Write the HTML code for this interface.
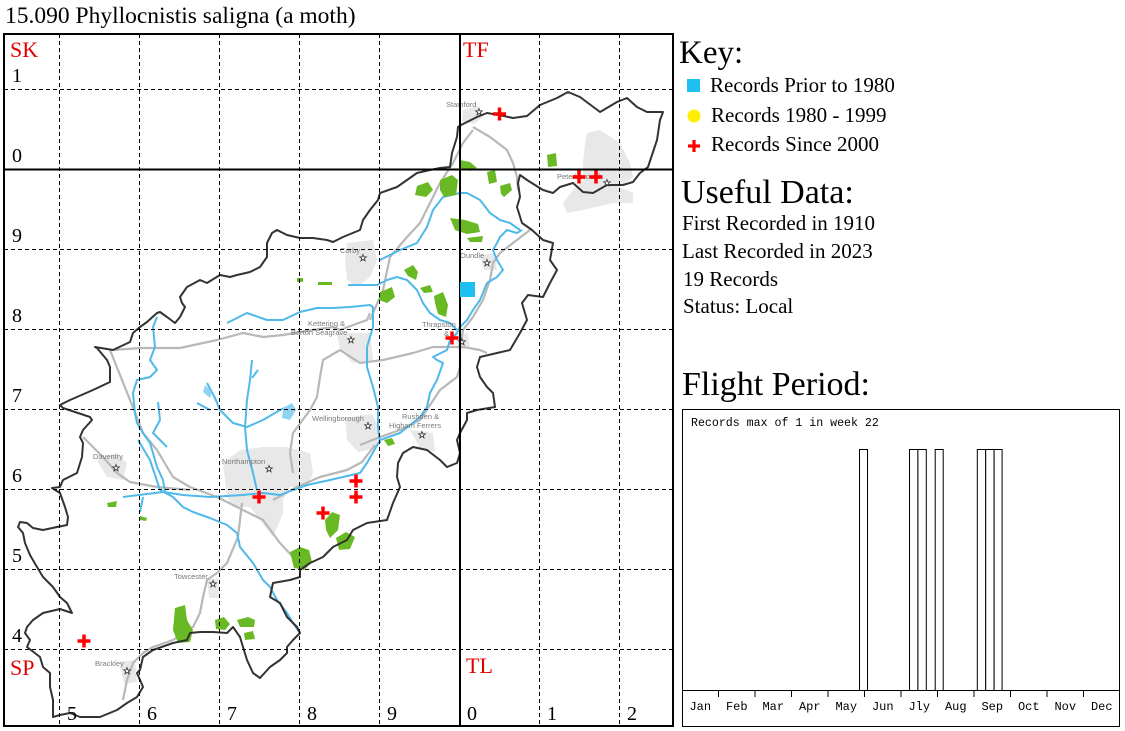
<!DOCTYPE html>
<html><head><meta charset="utf-8"><style>
html,body{margin:0;padding:0;background:#fff;}
svg{display:block;}
</style></head><body>
<svg width="1125" height="731" viewBox="0 0 1125 731" xmlns="http://www.w3.org/2000/svg">
<defs>
<path id="st" d="M0,-3.5 L0.82,-1.13 3.33,-1.08 1.33,0.43 2.06,2.83 0,1.4 -2.06,2.83 -1.33,0.43 -3.33,-1.08 -0.82,-1.13 Z" fill="#fff" stroke="#333" stroke-width="0.8"/>
</defs>
<rect width="1125" height="731" fill="#fff"/>
<text x="5" y="23" font-family="Liberation Serif, serif" font-size="23.5" fill="#000">15.090 Phyllocnistis saligna (a moth)</text>

<!-- urban areas -->
<g fill="#e8e8e8">
<path d="M587,133 L600,130 620,143 630,163 633,177 620,187 633,193 633,203 613,203 583,210 567,213 563,203 573,190 583,180 583,163 585,143Z"/>
<path d="M463,110 L478,106 484,116 474,124 462,121Z"/>
<path d="M347,243 L373,240 377,260 370,277 357,287 347,280 345,260Z"/>
<path d="M337,333 L370,333 373,360 353,363 340,350Z"/>
<path d="M223,463 L240,450 263,447 287,447 310,453 313,473 307,487 290,487 283,500 283,513 273,537 260,520 250,507 233,507 227,497Z"/>
<path d="M345,418 L372,414 380,430 376,448 358,452 347,440Z"/>
<path d="M410,430 L433,433 435,452 420,448Z"/>
<path d="M97,460 L117,453 127,463 123,480 107,477Z"/>
<path d="M207,580 L218,578 220,598 209,598Z"/>
<path d="M120,662 L135,660 137,682 124,684Z"/>
<path d="M455,335 L468,333 470,348 458,350Z"/>
<path d="M480,255 L495,253 497,270 484,270Z"/>
</g>

<!-- roads -->
<g fill="none" stroke="#b8b8b8" stroke-width="2.2" stroke-linejoin="round">
<path d="M113,350 L140,348 180,348 217,340 243,333 263,337 283,335 313,330 333,327 340,330 353,325 367,320 370,313"/>
<path d="M340,350 L360,363 383,360 413,353 433,347 463,347 480,350 487,353"/>
<path d="M340,350 L323,360 320,377 317,397 310,410 293,433 290,453 293,473"/>
<path d="M273,500 L297,487 320,477 347,470 362,462 375,445"/>
<path d="M360,445 L380,437 400,430 420,420 440,390 457,377 460,367 460,345"/>
<path d="M110,350 L130,400 143,433 157,450 173,477 190,487 217,497 237,507 263,520 280,543 293,557 300,567"/>
<path d="M83,437 L103,457 117,473 130,482 157,487 190,490"/>
<path d="M242,503 L238,537 227,563 217,573 207,580 203,597 200,613 193,627 173,640 153,647 143,653 133,663 127,680 123,700"/>
<path d="M370,320 L383,290 390,257 407,237 420,223 430,203 440,183 453,163 463,143 473,130"/>
<path d="M473,127 L490,137 507,150 513,163 517,177 518,190"/>
<path d="M530,230 L513,243 500,253 493,263 490,280 483,300 473,317 463,330 460,347"/>
</g>

<!-- rivers -->
<g fill="none" stroke="#4fb9ea" stroke-width="2" stroke-linejoin="round">
<path d="M123,497 L163,492 183,495 210,497 243,495 263,493 280,495 293,490 307,485 330,480 360,473 367,463 380,440 400,433 420,417 427,407 430,393 437,380 443,363 437,360 433,357 447,350 450,340 457,333 460,327 467,320 473,310 480,300 487,283 497,277 503,270 497,260 493,250 497,243 500,237 507,230 517,233 522,230"/>
<path d="M380,260 L400,250 417,243 427,227 433,210 443,197 460,193 467,193 480,200 490,213 500,220 510,223 520,230"/>
<path d="M227,323 L247,313 267,320 283,320 300,312 317,308 333,308 350,307 370,305 373,307 373,327 367,347 367,367 373,387 378,407 378,427 380,443"/>
<path d="M348,285 L377,285 387,280 397,277 407,280 417,290 423,303 430,313 440,320 450,323 457,330"/>
<path d="M157,317 L153,327 155,347 150,360 157,370 150,377 137,380 133,393 135,413 137,423 143,433 150,443 153,453 157,467 163,480 165,492"/>
<path d="M160,490 L173,497 183,507 193,512 210,518 227,525 237,533 240,547 253,563 263,580 270,587 277,600 287,613 293,623 300,633"/>
<path d="M252,360 L250,380 247,400 245,427 247,450 253,473 257,490"/>
<path d="M258,370 L252,378"/>
<path d="M207,383 L215,398 220,410 233,423 247,427 263,420 280,410 287,407"/>
<path d="M197,403 L210,410"/>
<path d="M158,402 L160,420 153,433 167,447"/>
<path d="M138,440 L150,460 155,475 160,490"/>
<path d="M143,497 L140,512"/>
</g>
<g fill="#8fd3f2">
<path d="M283,408 L292,403 296,410 290,420 282,418Z"/>
<path d="M205,385 L212,392 210,398 203,392Z"/>
</g>

<!-- woods -->
<g fill="#69b925">
<path d="M417,186 L428,182 433,190 426,197 415,195Z"/>
<path d="M440,180 L452,175 458,180 456,195 444,197 440,190Z"/>
<path d="M460,160 L470,162 477,168 470,171 461,168Z"/>
<path d="M487,172 L495,170 497,182 489,184Z"/>
<path d="M500,186 L510,183 512,190 504,197 501,194Z"/>
<path d="M450,218 L465,220 478,224 480,232 467,234 455,230Z"/>
<path d="M467,238 L483,236 482,242 470,242Z"/>
<path d="M547,155 L556,153 557,166 548,167Z"/>
<path d="M404,270 L413,265 418,272 416,280 408,276Z"/>
<path d="M380,292 L392,287 395,297 387,303 379,300Z"/>
<path d="M420,288 L430,285 433,292 424,293Z"/>
<path d="M434,296 L443,292 448,305 446,317 438,314 435,303Z"/>
<rect x="297" y="278" width="6" height="4"/>
<rect x="318" y="282" width="14" height="3"/>
<path d="M384,440 L392,438 395,444 388,446Z"/>
<path d="M290,552 L300,547 309,550 312,562 304,570 294,568Z"/>
<path d="M325,520 L332,512 340,515 338,530 330,538 326,530Z"/>
<path d="M336,538 L346,532 355,537 350,549 339,550Z"/>
<path d="M175,608 L185,605 187,620 193,630 190,642 178,643 173,630Z"/>
<path d="M215,620 L224,617 230,624 225,630 216,629Z"/>
<path d="M237,620 L248,617 255,620 254,627 240,627Z"/>
<path d="M244,633 L253,631 255,639 245,640Z"/>
<path d="M107,503 L117,501 116,507 108,507Z"/>
<path d="M140,516 L147,518 146,521 140,520Z"/>
</g>

<!-- county boundary -->
<path fill="none" stroke="#333" stroke-width="2" stroke-linejoin="round" d="M461,125 L477,117 487,113 499,115 513,118 527,116 540,105 557,98 568,92 580,97 600,112 617,102 627,98 637,107 647,112 663,112 660,120 657,140 648,167 640,173 633,182 623,185 607,185 593,193 583,192 573,183 560,187 553,193 543,190 527,180 520,175 518,183 520,197 517,207 522,223 532,230 543,240 553,243 550,260 557,270 550,283 543,297 528,295 522,303 527,320 520,333 510,350 497,353 480,357 477,367 480,377 487,387 493,393 495,407 477,410 467,413 467,420 460,433 457,440 460,453 457,463 447,467 440,460 427,450 413,447 403,453 398,463 397,477 400,487 393,503 387,520 367,523 353,530 347,540 333,547 323,557 310,563 300,570 300,577 290,580 273,583 270,597 280,603 287,617 297,627 300,633 293,640 287,647 287,653 280,660 270,667 260,678 253,673 247,660 243,647 240,637 233,627 227,633 213,632 200,632 190,633 187,640 173,643 153,650 143,657 140,670 137,673 143,687 137,697 127,703 117,710 100,717 80,717 70,713 60,715 53,717 53,700 50,687 50,673 43,667 40,657 27,647 30,640 25,633 27,627 33,620 43,613 60,609 72,613 67,603 60,597 53,587 43,577 37,567 30,555 25,543 23,533 18,527 20,522 27,523 33,528 43,530 57,527 67,525 68,517 65,507 60,493 52,488 60,487 63,480 77,473 82,457 83,443 80,437 83,430 92,420 90,417 63,408 60,405 70,400 93,390 110,382 110,367 107,360 97,348 95,347 113,350 130,342 133,333 140,327 147,322 157,313 160,312 167,317 175,323 180,317 185,307 182,303 180,297 187,287 200,280 207,283 220,275 230,277 237,275 250,272 260,267 267,257 267,243 272,233 277,230 287,235 300,238 313,238 327,240 333,242 343,237 360,230 363,220 370,210 378,200 380,193 397,187 407,180 417,173 430,170 440,168 450,167 452,153 457,137 458,127 Z"/>

<!-- town labels -->
<g font-family="Liberation Sans, sans-serif" font-size="7.5" fill="#7a7a7a">
<text x="446" y="107">Stamford</text>
<text x="557" y="179">Peterborough</text>
<text x="340" y="253">Corby</text>
<text x="460" y="258">Oundle</text>
<text x="308" y="326">Kettering &amp;</text>
<text x="291" y="335">Barton Seagrave</text>
<text x="422" y="327">Thrapston</text>
<text x="444" y="336">&amp;</text>
<text x="312" y="421">Wellingborough</text>
<text x="402" y="419">Rushden &amp;</text>
<text x="389" y="428">Higham Ferrers</text>
<text x="93" y="459">Daventry</text>
<text x="222" y="464">Northampton</text>
<text x="174" y="579">Towcester</text>
<text x="95" y="666">Brackley</text>
</g>
<g>
<use href="#st" x="479" y="112"/><use href="#st" x="607" y="183"/><use href="#st" x="363" y="258"/>
<use href="#st" x="487" y="263"/><use href="#st" x="351" y="340"/><use href="#st" x="462" y="342"/>
<use href="#st" x="368" y="426"/><use href="#st" x="422" y="435"/><use href="#st" x="116" y="468"/>
<use href="#st" x="269" y="469"/><use href="#st" x="213" y="584"/><use href="#st" x="127" y="671"/>
</g>

<!-- grid -->
<g stroke="#000" stroke-width="1" stroke-dasharray="4,3" fill="none">
<path d="M59.5,34 V726 M139.5,34 V726 M219.5,34 V726 M299.5,34 V726 M379.5,34 V726 M539.5,34 V726 M619.5,34 V726"/>
<path d="M4,89.5 H673 M4,249.5 H673 M4,329.5 H673 M4,409.5 H673 M4,489.5 H673 M4,569.5 H673 M4,649.5 H673"/>
</g>
<g stroke="#000" stroke-width="2" fill="none">
<rect x="4" y="34" width="669" height="692"/>
<path d="M460,34 V726 M4,169.5 H673"/>
</g>

<!-- records -->
<rect x="460" y="282" width="15" height="15" fill="#1ec0f2"/>
<g stroke="#ff0000" stroke-width="3.5" fill="none">
<path d="M493,114 H506 M499.5,107.5 V120.5"/>
<path d="M572.5,177 H585.5 M579,170.5 V183.5"/>
<path d="M589.5,177 H602.5 M596,170.5 V183.5"/>
<path d="M445.5,338 H458.5 M452,331.5 V344.5"/>
<path d="M252.5,497 H265.5 M259,490.5 V503.5"/>
<path d="M349.5,481 H362.5 M356,474.5 V487.5"/>
<path d="M349.5,497 H362.5 M356,490.5 V503.5"/>
<path d="M316.5,513 H329.5 M323,506.5 V519.5"/>
<path d="M77.5,641 H90.5 M84,634.5 V647.5"/>
</g>

<!-- grid labels -->
<g font-family="Liberation Serif, serif" font-size="22" fill="#e00000">
<text x="10" y="57">SK</text>
<text x="463" y="57">TF</text>
<text x="10" y="675">SP</text>
<text x="466" y="673">TL</text>
</g>
<g font-family="Liberation Serif, serif" font-size="20" fill="#000">
<text x="12" y="82">1</text>
<text x="12" y="162">0</text>
<text x="12" y="242">9</text>
<text x="12" y="322">8</text>
<text x="12" y="402">7</text>
<text x="12" y="482">6</text>
<text x="12" y="562">5</text>
<text x="12" y="642">4</text>
<text x="67" y="720">5</text>
<text x="147" y="720">6</text>
<text x="227" y="720">7</text>
<text x="307" y="720">8</text>
<text x="387" y="720">9</text>
<text x="467" y="720">0</text>
<text x="547" y="720">1</text>
<text x="627" y="720">2</text>
</g>

<!-- key -->
<g font-family="Liberation Serif, serif" fill="#000">
<text x="679" y="63" font-size="33">Key:</text>
<rect x="687" y="79" width="13" height="13" fill="#1ec0f2"/>
<circle cx="694" cy="116" r="6.5" fill="#ffee00"/>
<path d="M688,146 H700 M694,140 V152" stroke="#ff0000" stroke-width="3.2"/>
<text x="710" y="92" font-size="21">Records Prior to 1980</text>
<text x="711" y="122" font-size="21">Records 1980 - 1999</text>
<text x="711" y="151" font-size="21">Records Since 2000</text>
<text x="681" y="203" font-size="34">Useful Data:</text>
<text x="682" y="230" font-size="21">First Recorded in 1910</text>
<text x="682" y="258" font-size="21">Last Recorded in 2023</text>
<text x="683" y="286" font-size="21">19 Records</text>
<text x="683" y="313" font-size="21">Status: Local</text>
<text x="682" y="395" font-size="34">Flight Period:</text>
</g>

<!-- flight chart -->
<g fill="none" stroke="#000" stroke-width="1">
<rect x="682.5" y="409.5" width="437" height="317"/>
<path d="M682,690.5 H1120"/>
<path d="M718.5,690 V697 M755,690 V697 M791.5,690 V697 M828,690 V697 M864.5,690 V697 M901,690 V697 M937.5,690 V697 M974,690 V697 M1010.5,690 V697 M1047,690 V697 M1083.5,690 V697"/>
</g>
<g fill="#fff" stroke="#000" stroke-width="1">
<rect x="859.5" y="449.5" width="8" height="241"/>
<rect x="909.5" y="449.5" width="8.4" height="241"/>
<rect x="917.9" y="449.5" width="8.4" height="241"/>
<rect x="935.2" y="449.5" width="8" height="241"/>
<rect x="977.3" y="449.5" width="8.4" height="241"/>
<rect x="985.7" y="449.5" width="8.4" height="241"/>
<rect x="994.1" y="449.5" width="8" height="241"/>
</g>
<text x="691" y="426" font-family="Liberation Mono, monospace" font-size="11.6" fill="#000">Records max of 1 in week 22</text>
<g font-family="Liberation Mono, monospace" font-size="12" fill="#000" text-anchor="middle">
<text x="700.3" y="710">Jan</text>
<text x="736.8" y="710">Feb</text>
<text x="773.3" y="710">Mar</text>
<text x="809.8" y="710">Apr</text>
<text x="846.3" y="710">May</text>
<text x="882.8" y="710">Jun</text>
<text x="919.3" y="710">Jly</text>
<text x="955.8" y="710">Aug</text>
<text x="992.3" y="710">Sep</text>
<text x="1028.8" y="710">Oct</text>
<text x="1065.3" y="710">Nov</text>
<text x="1101.8" y="710">Dec</text>
</g>
</svg>
</body></html>
